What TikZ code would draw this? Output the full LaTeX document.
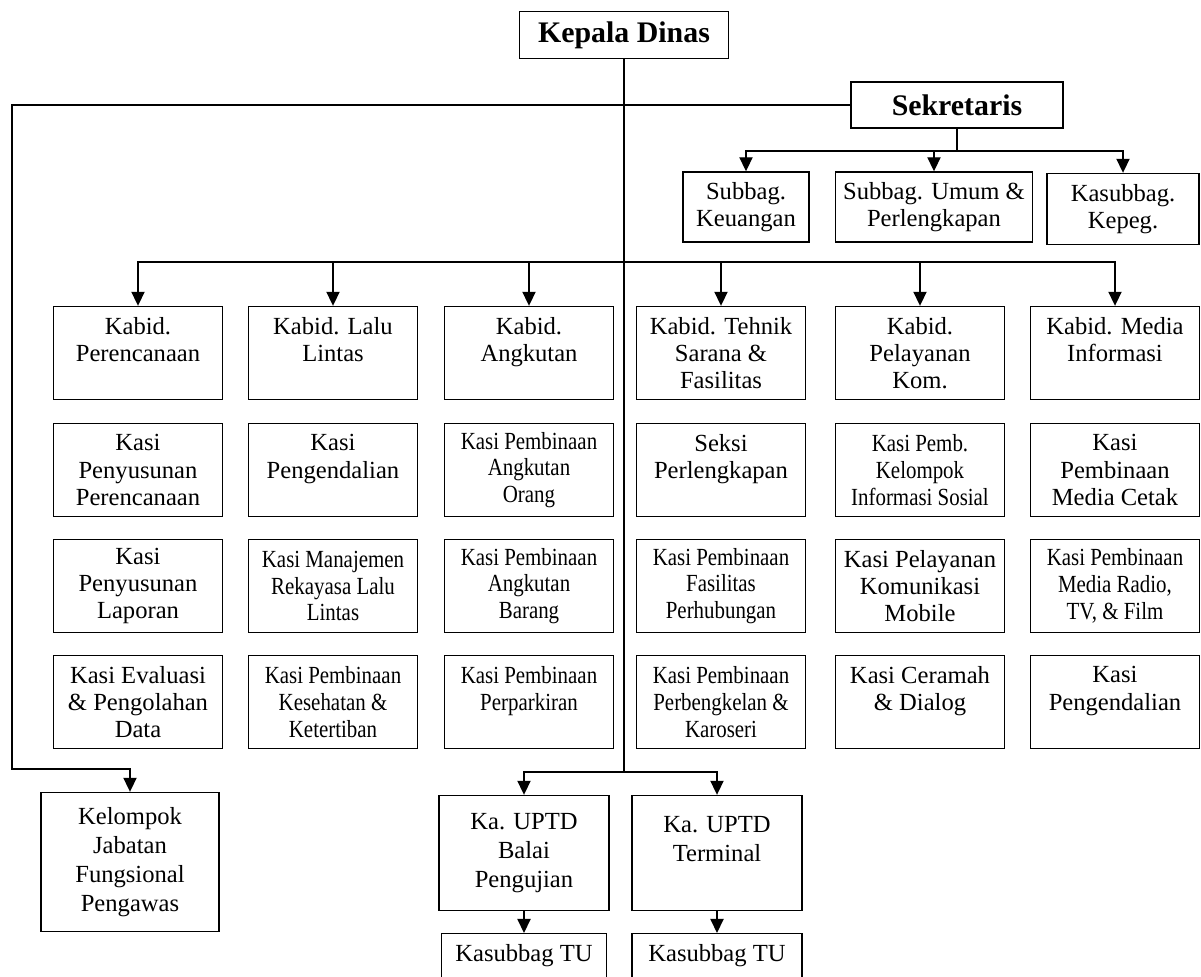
\documentclass[tikz,border=0pt]{standalone}
\usepackage{fontspec}
\setmainfont{Liberation Serif}
\newfontfamily\narrowserif[FakeStretch=0.85]{Liberation Serif}
\usetikzlibrary{arrows.meta}

\begin{document}
\begin{tikzpicture}[x=0.02cm, y=-0.02cm, >={Triangle[width=7.5pt,length=8pt]}, line width=0.8pt,
    unit/.style={draw, align=center, inner sep=2pt, minimum width=3.38cm, minimum height=1.86cm, font=\fontsize{14}{15.5}\selectfont},
    smallunit/.style={unit, font=\narrowserif\fontsize{14}{15.3}\selectfont},
    headunit/.style={draw, inner sep=2pt, font=\bfseries\fontsize{17}{20}\selectfont}]
    \useasboundingbox (0,0) rectangle (1201,977);

    \node[headunit, minimum width=4.18cm, minimum height=0.94cm] (kepala) at (624,35) {Kepala Dinas};
    \node[headunit, minimum width=4.24cm, minimum height=0.92cm] (sekre) at (957,105) {Sekretaris};

    \node[unit, minimum width=2.52cm, minimum height=1.4cm] (keu) at (746,207) {Subbag.\\Keuangan};
    \node[unit, minimum width=3.94cm, minimum height=1.4cm] (umum) at (934,207) {Subbag. Umum \&\\Perlengkapan};
    \node[unit, minimum width=3.04cm, minimum height=1.42cm] (kepeg) at (1123,209) {Kasubbag.\\Kepeg.};

    \node[unit] (kabid1) at (138,353) {Kabid.\\Perencanaan\\\mbox{}};
    \node[unit] (kabid2) at (333,353) {Kabid. Lalu\\Lintas\\\mbox{}};
    \node[unit] (kabid3) at (529,353) {Kabid.\\Angkutan\\\mbox{}};
    \node[unit] (kabid4) at (721,353) {Kabid. Tehnik\\Sarana \&\\Fasilitas};
    \node[unit] (kabid5) at (920,353) {Kabid.\\Pelayanan\\Kom.};
    \node[unit] (kabid6) at (1115,353) {Kabid. Media\\Informasi\\\mbox{}};

    \node[unit] (kasi11) at (138,470) {Kasi\\Penyusunan\\Perencanaan};
    \node[unit] (kasi21) at (333,470) {Kasi\\Pengendalian\\\mbox{}};
    \node[smallunit] (kasi31) at (529,470) {Kasi Pembinaan\\Angkutan\\Orang};
    \node[unit] (kasi41) at (721,470) {Seksi\\Perlengkapan\\\mbox{}};
    \node[smallunit] (kasi51) at (920,470) {Kasi Pemb.\\Kelompok\\Informasi Sosial};
    \node[unit] (kasi61) at (1115,470) {Kasi\\Pembinaan\\Media Cetak};

    \node[unit] (kasi12) at (138,586) {Kasi\\Penyusunan\\Laporan};
    \node[smallunit] (kasi22) at (333,586) {Kasi Manajemen\\Rekayasa Lalu\\Lintas};
    \node[smallunit] (kasi32) at (529,586) {Kasi Pembinaan\\Angkutan\\Barang};
    \node[smallunit] (kasi42) at (721,586) {Kasi Pembinaan\\Fasilitas\\Perhubungan};
    \node[unit] (kasi52) at (920,586) {Kasi Pelayanan\\Komunikasi\\Mobile};
    \node[smallunit] (kasi62) at (1115,586) {Kasi Pembinaan\\Media Radio,\\TV, \& Film};

    \node[unit] (kasi13) at (138,702) {Kasi Evaluasi\\\& Pengolahan\\Data};
    \node[smallunit] (kasi23) at (333,702) {Kasi Pembinaan\\Kesehatan \&\\Ketertiban};
    \node[smallunit] (kasi33) at (529,702) {Kasi Pembinaan\\Perparkiran\\\mbox{}};
    \node[smallunit] (kasi43) at (721,702) {Kasi Pembinaan\\Perbengkelan \&\\Karoseri};
    \node[unit] (kasi53) at (920,702) {Kasi Ceramah\\\& Dialog\\\mbox{}};
    \node[unit] (kasi63) at (1115,702) {Kasi\\Pengendalian\\\mbox{}};

    \node[unit, minimum width=3.56cm, minimum height=2.78cm, font=\fontsize{14}{16.5}\selectfont] (kelompok) at (130,862) {Kelompok\\Jabatan\\Fungsional\\Pengawas};
    \node[unit, minimum width=3.4cm, minimum height=2.3cm, font=\fontsize{14}{16.5}\selectfont] (uptdbalai) at (524,853) {Ka. UPTD\\Balai\\Pengujian};
    \node[unit, minimum width=3.4cm, minimum height=2.3cm, font=\fontsize{14}{16.5}\selectfont] (uptdterm) at (717,853) {Ka. UPTD\\Terminal\\\mbox{}};
    \node[unit, anchor=north, minimum width=3.3cm, minimum height=0pt, inner ysep=6pt, text depth=1.5cm] (tubalai) at (524,933) {Kasubbag TU};
    \node[unit, anchor=north, minimum width=3.4cm, minimum height=0pt, inner ysep=6pt, text depth=1.5cm] (tuterm) at (717,933) {Kasubbag TU};

    \coordinate (kabidjoin) at (624,262);
    \coordinate (uptdjoin) at (624,772);
    \coordinate (sekjoin) at (957,151);
    \coordinate (leftturn) at (12,769);

    \draw (kepala.south) -- (uptdjoin);
    \draw[->] (kabidjoin) -| (kabid1.north);
    \draw[->] (kabidjoin) -| (kabid2.north);
    \draw[->] (kabidjoin) -| (kabid3.north);
    \draw[->] (kabidjoin) -| (kabid4.north);
    \draw[->] (kabidjoin) -| (kabid5.north);
    \draw[->] (kabidjoin) -| (kabid6.north);

    \draw[->] (sekre.west) -| (leftturn) -| (kelompok.north);
    \draw (sekre.south) -- (sekjoin);
    \draw[->] (sekjoin) -| (keu.north);
    \draw[->] (sekjoin) -| (umum.north);
    \draw[->] (sekjoin) -| (kepeg.north);

    \draw[->] (uptdjoin) -| (uptdbalai.north);
    \draw[->] (uptdjoin) -| (uptdterm.north);
    \draw[->] (uptdbalai.south) -- (tubalai.north);
    \draw[->] (uptdterm.south) -- (tuterm.north);
\end{tikzpicture}
\end{document}
